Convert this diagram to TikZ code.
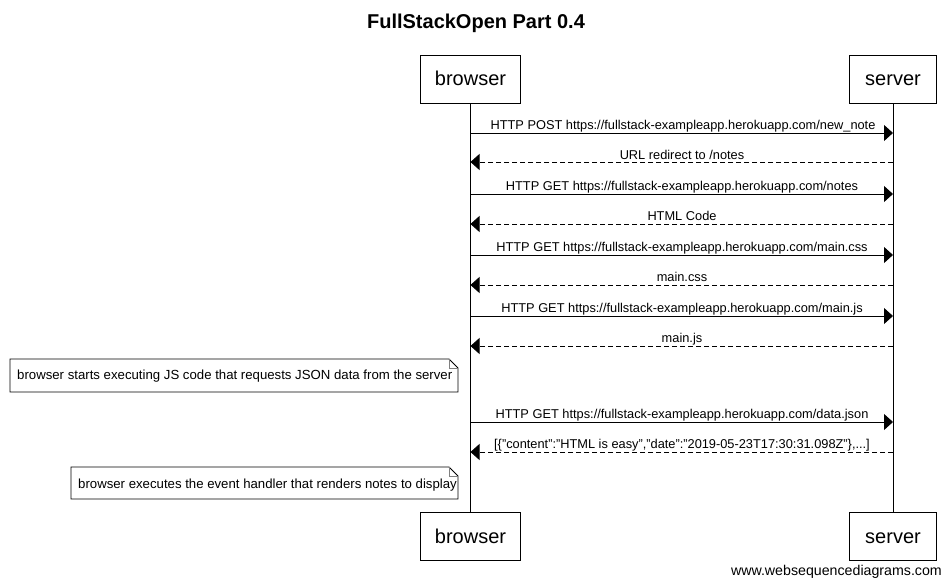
\documentclass[tikz,border=0pt]{standalone}
\usepackage{fontspec}
\setmainfont{Liberation Sans}
\usetikzlibrary{arrows.meta}
\begin{document}
\begin{tikzpicture}[x=1pt,y=-1pt,
  actor/.style={draw,line width=0.8pt,minimum height=48pt,inner sep=0pt,font=\fontsize{20}{24}\selectfont,text height=18pt,text depth=4pt,fill=white},
  msglabel/.style={font=\fontsize{12.8}{15}\selectfont,inner sep=1pt,anchor=base},
  req/.style={line width=0.8pt,-{Triangle[length=9pt,width=16pt]}},
  resp/.style={req,dash pattern=on 5pt off 3pt},
  notetext/.style={font=\fontsize{13.2}{15}\selectfont,inner sep=0pt,anchor=base west},
  life/.style={line width=0.8pt}]
\useasboundingbox (0,0) rectangle (951,585);
\node[font=\bfseries\fontsize{20}{24}\selectfont,anchor=base] (title) at (476,29) {FullStackOpen Part 0.4};
% actors
\node[actor,minimum width=100pt] (btop) at (470.5,79) {browser};
\node[actor,minimum width=87pt] (stop) at (893,79) {server};
\node[actor,minimum width=100pt] (bbot) at (470.5,536) {browser};
\node[actor,minimum width=87pt] (sbot) at (893,536) {server};
\draw[life] (btop.south) -- (bbot.north);
\draw[life] (stop.south) -- (sbot.north);
% message coordinates
\foreach \n/\y in {1/133,2/162,3/194,4/224,5/255,6/285,7/316,8/346,9/422,10/452}{
  \coordinate (b\n) at (470.5,\y);
  \coordinate (s\n) at (893,\y);
}
\draw[req] (b1) -- (s1);
\node[msglabel] (m1) at (683,129.5) {HTTP POST https://fullstack-exampleapp.herokuapp.com/new\_note};
\draw[resp] (s2) -- (b2);
\node[msglabel] (m2) at (682,159.5) {URL redirect to /notes};
\draw[req] (b3) -- (s3);
\node[msglabel] (m3) at (682,190.5) {HTTP GET https://fullstack-exampleapp.herokuapp.com/notes};
\draw[resp] (s4) -- (b4);
\node[msglabel] (m4) at (682,220.5) {HTML Code};
\draw[req] (b5) -- (s5);
\node[msglabel] (m5) at (682,251.5) {HTTP GET https://fullstack-exampleapp.herokuapp.com/main.css};
\draw[resp] (s6) -- (b6);
\node[msglabel] (m6) at (682,281.5) {main.css};
\draw[req] (b7) -- (s7);
\node[msglabel] (m7) at (682,312.5) {HTTP GET https://fullstack-exampleapp.herokuapp.com/main.js};
\draw[resp] (s8) -- (b8);
\node[msglabel] (m8) at (682,342.5) {main.js};
\draw[req] (b9) -- (s9);
\node[msglabel] (m9) at (682,418.5) {HTTP GET https://fullstack-exampleapp.herokuapp.com/data.json};
\draw[resp] (s10) -- (b10);
\node[msglabel] (m10) at (682,448.5) {[\{"content":"HTML is easy","date":"2019-05-23T17:30:31.098Z"\},...]};
% notes
\draw[line width=0.8pt,fill=white] (10,359) -- (449,359) -- (458,368) -- (458,392) -- (10,392) -- cycle;
\draw[line width=0.5pt,gray] (449,359) -- (449,368) -- (458,368);
\node[notetext] (n1) at (17,380) {browser starts executing JS code that requests JSON data from the server};
\draw[line width=0.8pt,fill=white] (71,467) -- (449,467) -- (458,476) -- (458,499) -- (71,499) -- cycle;
\draw[line width=0.5pt,gray] (449,467) -- (449,476) -- (458,476);
\node[notetext] (n2) at (78,488) {browser executes the event handler that renders notes to display};
\node[font=\fontsize{14.2}{16}\selectfont,anchor=base east,inner sep=0pt] (footer) at (942,575) {www.websequencediagrams.com};
\end{tikzpicture}
\end{document}
